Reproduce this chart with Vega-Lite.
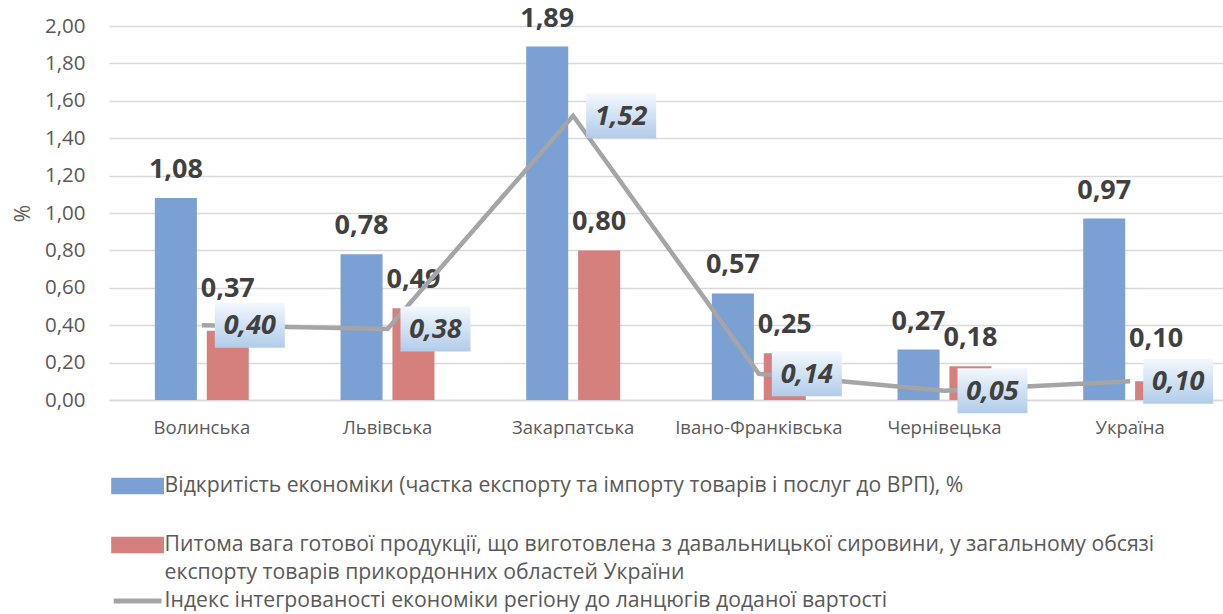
{
  "$schema": "https://vega.github.io/schema/vega-lite/v6.json",
  "width": 1114,
  "height": 374,
  "autosize": "none",
  "padding": {"left": 109, "top": 26, "right": 0, "bottom": 214},
  "config": {
    "locale": {"number": {"decimal": ",", "thousands": " ", "grouping": [3], "currency": ["", ""]}},
    "font": "Open Sans",
    "view": {"stroke": null},
    "axisY": {
      "labelFontSize": 20.5, "labelColor": "#595959", "labelPadding": 24, "labelOverlap": false,
      "domain": false, "ticks": false,
      "gridColor": "#D9D9D9", "gridWidth": 1.5,
      "titleFontSize": 21, "titleFontWeight": "normal", "titleColor": "#595959", "titlePadding": 11
    },
    "axisX": {
      "labelFontSize": 18.5, "labelColor": "#595959", "labelPadding": 18,
      "domainColor": "#D9D9D9", "domainWidth": 1.5, "ticks": false, "grid": false,
      "labelAngle": 0, "title": null
    },
    "legend": {
      "orient": "bottom", "direction": "vertical", "title": null,
      "labelFontSize": 21.2, "labelColor": "#595959", "labelLimit": 1100,
      "symbolSize": 432, "symbolOffset": 15.6, "rowPadding": 4, "labelOffset": 14, "offset": 36, "padding": 0
    }
  },
  "datasets": {
    "bars": [
      {"region": "Волинська", "series": "Відкритість економіки (частка експорту та імпорту товарів і послуг до ВРП), %", "value": 1.08},
      {"region": "Волинська", "series": "Питома вага готової продукції, що виготовлена з давальницької сировини, у загальному обсязі експорту товарів прикордонних областей України", "value": 0.37},
      {"region": "Львівська", "series": "Відкритість економіки (частка експорту та імпорту товарів і послуг до ВРП), %", "value": 0.78},
      {"region": "Львівська", "series": "Питома вага готової продукції, що виготовлена з давальницької сировини, у загальному обсязі експорту товарів прикордонних областей України", "value": 0.49},
      {"region": "Закарпатська", "series": "Відкритість економіки (частка експорту та імпорту товарів і послуг до ВРП), %", "value": 1.89},
      {"region": "Закарпатська", "series": "Питома вага готової продукції, що виготовлена з давальницької сировини, у загальному обсязі експорту товарів прикордонних областей України", "value": 0.80},
      {"region": "Івано-Франківська", "series": "Відкритість економіки (частка експорту та імпорту товарів і послуг до ВРП), %", "value": 0.57},
      {"region": "Івано-Франківська", "series": "Питома вага готової продукції, що виготовлена з давальницької сировини, у загальному обсязі експорту товарів прикордонних областей України", "value": 0.25},
      {"region": "Чернівецька", "series": "Відкритість економіки (частка експорту та імпорту товарів і послуг до ВРП), %", "value": 0.27},
      {"region": "Чернівецька", "series": "Питома вага готової продукції, що виготовлена з давальницької сировини, у загальному обсязі експорту товарів прикордонних областей України", "value": 0.18},
      {"region": "Україна", "series": "Відкритість економіки (частка експорту та імпорту товарів і послуг до ВРП), %", "value": 0.97},
      {"region": "Україна", "series": "Питома вага готової продукції, що виготовлена з давальницької сировини, у загальному обсязі експорту товарів прикордонних областей України", "value": 0.10}
    ],
    "line": [
      {"region": "Волинська", "series": "Індекс інтегрованості економіки регіону до ланцюгів доданої вартості", "value": 0.40},
      {"region": "Львівська", "series": "Індекс інтегрованості економіки регіону до ланцюгів доданої вартості", "value": 0.38},
      {"region": "Закарпатська", "series": "Індекс інтегрованості економіки регіону до ланцюгів доданої вартості", "value": 1.52},
      {"region": "Івано-Франківська", "series": "Індекс інтегрованості економіки регіону до ланцюгів доданої вартості", "value": 0.14},
      {"region": "Чернівецька", "series": "Індекс інтегрованості економіки регіону до ланцюгів доданої вартості", "value": 0.05},
      {"region": "Україна", "series": "Індекс інтегрованості економіки регіону до ланцюгів доданої вартості", "value": 0.10}
    ]
  },
  "encoding": {
    "x": {"field": "region", "type": "nominal", "sort": null, "scale": {"paddingInner": 0.494, "paddingOuter": 0.247}},
    "y": {
      "field": "value", "type": "quantitative", "title": "%",
      "scale": {"domain": [0, 2], "nice": false},
      "axis": {"values": [0, 0.2, 0.4, 0.6, 0.8, 1, 1.2, 1.4, 1.6, 1.8, 2], "format": ".2f", "labelOverlap": false}
    }
  },
  "layer": [
    {
      "data": {"name": "bars"},
      "mark": {"type": "bar"},
      "encoding": {
        "xOffset": {"field": "series", "type": "nominal", "sort": null, "scale": {"paddingInner": 0.19, "paddingOuter": 0}},
        "color": {
          "field": "series", "type": "nominal",
          "scale": {
            "domain": [
              "Відкритість економіки (частка експорту та імпорту товарів і послуг до ВРП), %",
              "Питома вага готової продукції, що виготовлена з давальницької сировини, у загальному обсязі експорту товарів прикордонних областей України",
              "Індекс інтегрованості економіки регіону до ланцюгів доданої вартості"
            ],
            "range": ["#7BA0D4", "#D5807D", "#A5A5A5"]
          },
          "legend": {
            "symbolType": "M-2.3,-0.55L2.3,-0.55L2.3,0.55L-2.3,0.55Z",
            "labelExpr": "indexof(datum.label, 'Питома') == 0 ? ['Питома вага готової продукції, що виготовлена з давальницької сировини, у загальному обсязі', 'експорту товарів прикордонних областей України'] : [datum.label, '']",
            "encode": {
              "symbols": {
                "update": {
                  "shape": {"signal": "indexof(datum.value, 'Індекс') == 0 ? 'M-2.3,0L2.3,0' : 'M-2.3,-0.55L2.3,-0.55L2.3,0.55L-2.3,0.55Z'"},
                  "fill": {"signal": "indexof(datum.value, 'Індекс') == 0 ? 'transparent' : scale('color', datum.value)"},
                  "stroke": {"signal": "indexof(datum.value, 'Індекс') == 0 ? '#A5A5A5' : 'transparent'"},
                  "strokeWidth": {"value": 5},
                  "opacity": {"value": 1}
                }
              },
              "labels": {
                "update": {
                  "lineHeight": {"value": 28}
                }
              }
            }
          }
        }
      }
    },
    {
      "data": {"name": "bars"},
      "transform": [{"filter": "!(datum.region == 'Волинська' && indexof(datum.series, 'Питома') == 0) && !(datum.region == 'Україна' && indexof(datum.series, 'Питома') == 0)"}],
      "mark": {"type": "text", "fontSize": 27, "fontWeight": "bold", "color": "#404040", "baseline": "alphabetic", "dy": -20},
      "encoding": {
        "xOffset": {"field": "series", "type": "nominal", "sort": null},
        "text": {"field": "value", "type": "quantitative", "format": ".2f"}
      }
    },
    {
      "data": {"name": "bars"},
      "transform": [{"filter": "(datum.region == 'Волинська' || datum.region == 'Україна') && indexof(datum.series, 'Питома') == 0"}],
      "mark": {"type": "text", "fontSize": 27, "fontWeight": "bold", "color": "#404040", "baseline": "alphabetic", "dy": -34},
      "encoding": {
        "xOffset": {"field": "series", "type": "nominal", "sort": null},
        "text": {"field": "value", "type": "quantitative", "format": ".2f"}
      }
    },
    {
      "data": {"name": "line"},
      "mark": {"type": "line", "strokeWidth": 4.5, "strokeCap": "butt"},
      "encoding": {
        "color": {"field": "series", "type": "nominal"}
      }
    },
    {
      "data": {"name": "line"},
      "mark": {
        "type": "point",
        "shape": "M-1.556,-1L1.556,-1L1.556,1L-1.556,1Z",
        "size": 2025,
        "filled": true,
        "opacity": 1,
        "strokeWidth": 0,
        "xOffset": 48,
        "fill": {"gradient": "linear", "x1": 0, "y1": 0, "x2": 0, "y2": 1, "stops": [{"offset": 0, "color": "#F3F8FD"}, {"offset": 1, "color": "#B1CCEA"}]}
      }
    },
    {
      "data": {"name": "line"},
      "mark": {"type": "text", "fontSize": 27, "fontWeight": "bold", "fontStyle": "italic", "color": "#404040", "baseline": "middle", "xOffset": 48, "dy": 1},
      "encoding": {
        "text": {"field": "value", "type": "quantitative", "format": ".2f"}
      }
    }
  ]
}
